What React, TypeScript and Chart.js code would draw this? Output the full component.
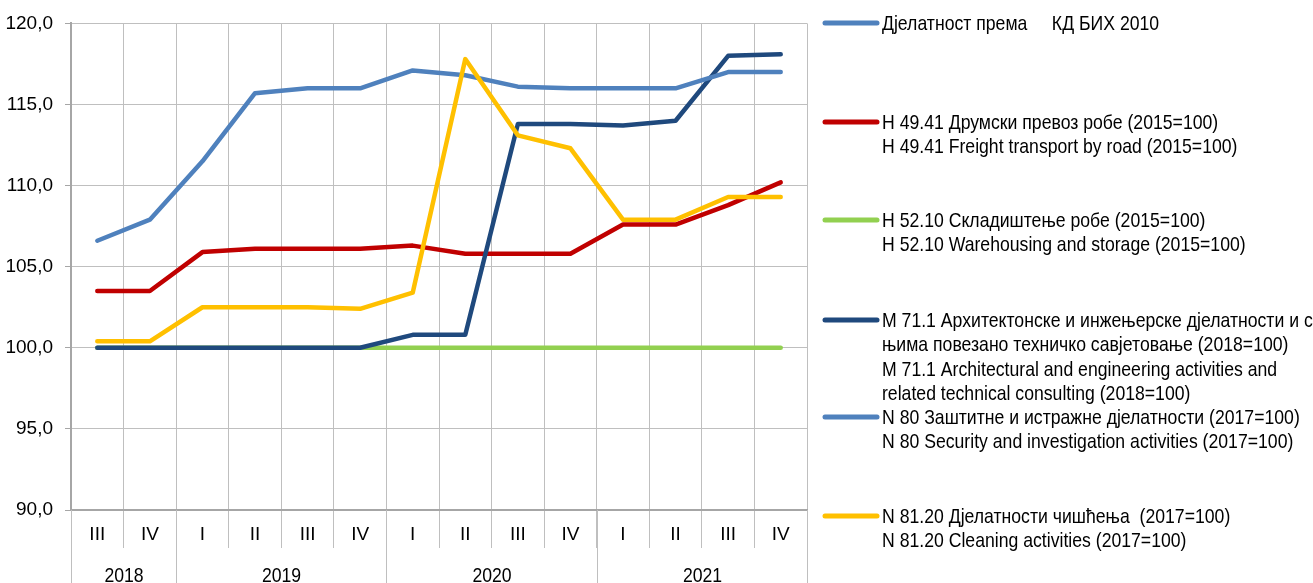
import React, { useEffect, useRef } from 'react';
import { Chart, registerables } from 'chart.js';

Chart.register(...registerables);

const quarters = ['III', 'IV', 'I', 'II', 'III', 'IV', 'I', 'II', 'III', 'IV', 'I', 'II', 'III', 'IV'];
const years = ['2018', '2019', '2020', '2021'];
const quartersPerYear = [2, 4, 4, 4];
const yTicks = [90, 95, 100, 105, 110, 115, 120];

const headerLabel = ['Дјелатност према     КД БИХ 2010'];
const roadLabel = ['H 49.41 Друмски превоз робе (2015=100)', 'H 49.41 Freight transport by road (2015=100)'];
const storageLabel = ['H 52.10 Складиштење робе (2015=100)', 'H 52.10 Warehousing and storage (2015=100)'];
const architectLabel = [
  'M 71.1 Архитектонске и инжењерске дјелатности и с',
  'њима повезано техничко савјетовање (2018=100)',
  'M 71.1 Architectural and engineering activities and',
  'related technical consulting (2018=100)',
];
const securityLabel = ['N 80 Заштитне и истражне дјелатности (2017=100)', 'N 80 Security and investigation activities (2017=100)'];
const cleaningLabel = ['N 81.20 Дјелатности чишћења  (2017=100)', 'N 81.20 Cleaning activities (2017=100)'];

const headerValues: (number | null)[] = [];
const roadValues = [103.5, 103.5, 105.9, 106.1, 106.1, 106.1, 106.3, 105.8, 105.8, 105.8, 107.6, 107.6, 108.8, 110.2];
const storageValues = [100, 100, 100, 100, 100, 100, 100, 100, 100, 100, 100, 100, 100, 100];
const architectValues = [100, 100, 100, 100, 100, 100, 100.8, 100.8, 113.8, 113.8, 113.7, 114.0, 118.0, 118.1];
const securityValues = [106.6, 107.9, 111.5, 115.7, 116.0, 116.0, 117.1, 116.8, 116.1, 116.0, 116.0, 116.0, 117.0, 117.0];
const cleaningValues = [100.4, 100.4, 102.5, 102.5, 102.5, 102.4, 103.4, 117.8, 113.1, 112.3, 107.9, 107.9, 109.3, 109.3];

const FONT = '"Liberation Sans", Arial, sans-serif';
const NARROW = 0.84;
const legendY = [23, 122, 220, 320, 417, 516];

const drawNarrow = (ctx: any, text: string, x: number, y: number, align: string) => {
  ctx.save();
  ctx.translate(x, y);
  ctx.scale(NARROW, 1);
  ctx.textAlign = align;
  ctx.fillText(text, 0, 0);
  ctx.restore();
};

const yearAxisPlugin = {
  id: 'yearAxis',
  afterDraw(chart: any) {
    const ctx = chart.ctx;
    const xs = chart.scales.x;
    const half = (xs.getPixelForValue(1) - xs.getPixelForValue(0)) / 2;
    ctx.save();
    ctx.strokeStyle = '#BFBFBF';
    ctx.lineWidth = 1;
    ctx.fillStyle = '#000';
    ctx.font = `21px ${FONT}`;
    ctx.textBaseline = 'middle';
    let idx = 0;
    years.forEach((yr, i) => {
      const n = quartersPerYear[i];
      const left = Math.round(xs.getPixelForValue(idx) - half) + 0.5;
      const right = Math.round(xs.getPixelForValue(idx + n - 1) + half) + 0.5;
      ctx.beginPath();
      ctx.moveTo(left, xs.top);
      ctx.lineTo(left, chart.height);
      if (i === years.length - 1) {
        ctx.moveTo(right, xs.top);
        ctx.lineTo(right, chart.height);
      }
      ctx.stroke();
      drawNarrow(ctx, yr, (left + right) / 2, 576, 'center');
      idx += n;
    });
    ctx.restore();
  },
};

const legendPlugin = {
  id: 'sideLegend',
  afterDraw(chart: any) {
    const ctx = chart.ctx;
    ctx.save();
    ctx.font = `21px ${FONT}`;
    ctx.textBaseline = 'middle';
    chart.data.datasets.forEach((ds: any, i: number) => {
      const y = legendY[i];
      ctx.strokeStyle = ds.borderColor;
      ctx.lineWidth = 5;
      ctx.lineCap = 'round';
      ctx.beginPath();
      ctx.moveTo(825, y);
      ctx.lineTo(877, y);
      ctx.stroke();
      ctx.fillStyle = '#000';
      ds.legendLines.forEach((line: string, j: number) => {
        drawNarrow(ctx, line, 882, y + 1 + j * 24.5, 'left');
      });
    });
    ctx.restore();
  },
};

export default function App() {
  const ref = useRef<HTMLCanvasElement>(null);
  useEffect(() => {
    if (!ref.current) return;
    Chart.defaults.font.family = FONT;
    const mk = (lines: string[], data: (number | null)[], color: string, order: number) => ({
      label: lines.join(' '),
      legendLines: lines,
      data,
      borderColor: color,
      backgroundColor: color,
      borderWidth: 4.5,
      pointRadius: 0,
      borderCapStyle: 'round',
      borderJoinStyle: 'round',
      tension: 0,
      order,
    });
    const chart = new Chart(ref.current, {
      type: 'line',
      data: {
        labels: quarters,
        datasets: [
          mk(headerLabel, headerValues, '#4F81BD', 5),
          mk(roadLabel, roadValues, '#C00000', 4),
          mk(storageLabel, storageValues, '#92D050', 3),
          mk(architectLabel, architectValues, '#1F497D', 2),
          mk(securityLabel, securityValues, '#4F81BD', 1),
          mk(cleaningLabel, cleaningValues, '#FFC000', 0),
        ] as any,
      },
      options: {
        animation: false,
        responsive: true,
        maintainAspectRatio: false,
        layout: { padding: { left: 0, top: 22, right: 506, bottom: 0 } },
        plugins: { legend: { display: false }, tooltip: { enabled: false } },
        scales: {
          x: {
            offset: true,
            grid: { offset: true, color: '#BFBFBF', lineWidth: 1, tickLength: 38, tickColor: '#BFBFBF' },
            border: { color: '#A6A6A6', width: 2 },
            ticks: { font: { size: 19 }, color: '#000', padding: -25, maxRotation: 0, autoSkip: false },
            afterFit: (s: any) => { s.height = 73; },
          },
          y: {
            min: 90,
            max: 120,
            afterBuildTicks: (s: any) => { s.ticks = yTicks.map((v) => ({ value: v })); },
            ticks: {
              font: { size: 19 },
              color: '#000',
              padding: 12,
              callback: (v: any) => Number(v).toFixed(1).replace('.', ','),
            },
            grid: { color: '#BFBFBF', lineWidth: 1, tickLength: 6, tickColor: '#A6A6A6' },
            border: { color: '#A6A6A6', width: 2 },
            afterFit: (s: any) => { s.width = 71; },
          },
        },
      } as any,
      plugins: [yearAxisPlugin, legendPlugin],
    });
    return () => chart.destroy();
  }, []);
  return (
    <div style={{ position: 'fixed', left: 0, top: 0, width: 1313, height: 583, background: '#fff' }}>
      <canvas ref={ref} />
    </div>
  );
}
